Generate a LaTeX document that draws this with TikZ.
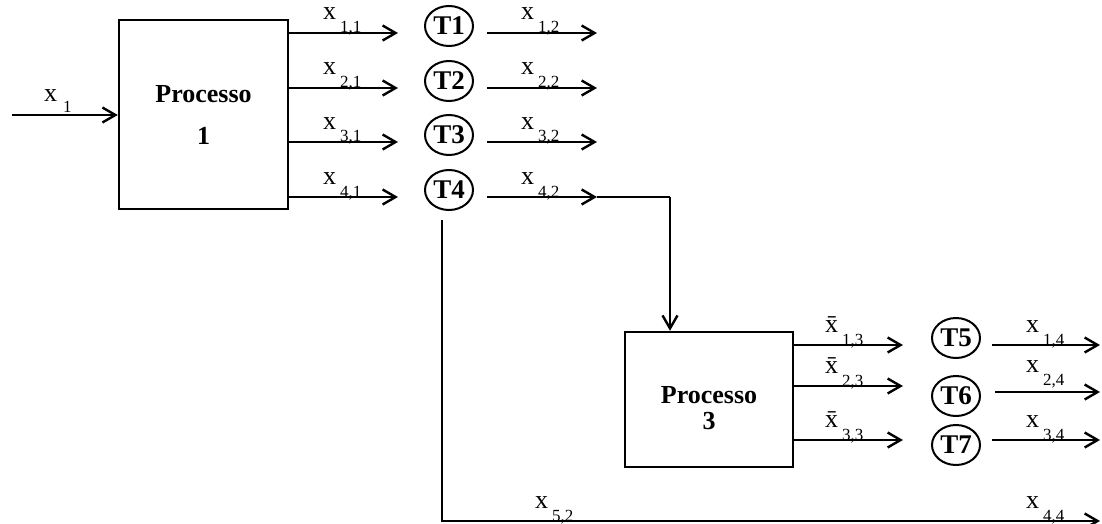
\documentclass[tikz,border=0pt]{standalone}
\usepackage{fontspec}
\setmainfont{Liberation Serif}
\usetikzlibrary{positioning,arrows.meta,shapes.geometric}

% variable label: x with a lowered index
\newcommand{\xsub}[2]{x\hspace{4pt}\raisebox{-13pt}{\fontsize{17}{17}\selectfont #1,#2}}
\newcommand{\xbarsub}[2]{\={x}\hspace{4pt}\raisebox{-13pt}{\fontsize{17}{17}\selectfont #1,#2}}

\begin{document}
\begin{tikzpicture}[x=1pt, y=-1pt, line width=2.4pt,
  flow/.style={-{Straight Barb[length=13pt,width=15pt]}},
  proc/.style={draw, rectangle, inner sep=0pt, align=center},
  tnode/.style={draw, ellipse, inner sep=0pt, minimum width=48pt, minimum height=40pt,
    line width=2pt, font=\bfseries\fontsize{27}{27}\selectfont},
  var/.style={inner sep=0pt, anchor=base west, font=\fontsize{26}{26}\selectfont}]
  \useasboundingbox (0,0) rectangle (1102,524);

  % Processes
  \node[proc, minimum width=169pt, minimum height=189pt,
    font=\bfseries\fontsize{26}{42}\selectfont] (p1) at (203.5,114.5) {Processo\\1};
  \node[proc, minimum width=168pt, minimum height=135pt, text depth=0pt,
    font=\bfseries\fontsize{26}{26}\selectfont] (p3) at (709,399.5) {\raisebox{-2.5pt}{\parbox{160pt}{\centering Processo\\3}}};

  % Input
  \coordinate (in) at (12,115);
  \draw[flow] (in) -- (in -| p1.west);
  \node[var] (lx1) at (43,102) {x\hspace{6pt}\raisebox{-11pt}{\fontsize{17}{17}\selectfont 1}};

  % Outputs of process 1 and tanks T1--T4
  \foreach \i/\y in {1/33, 2/88, 3/142, 4/197} {
    \node[tnode] (t\i) at (449,\y-7) {T\i};
    \coordinate (a\i) at (398,\y);
    \coordinate (b\i) at (487,\y);
    \coordinate (c\i) at (597,\y);
    \draw[flow] (a\i -| p1.east) -- (a\i);
    \draw[flow] (b\i) -- (c\i);
    \node[var] (la\i) at (322,\y-13) {\xsub{\i}{1}};
    \node[var] (lb\i) at (520,\y-13) {\xsub{\i}{2}};
  }

  % x_{4,2} to process 3
  \coordinate (k1) at (670,197);
  \draw (c4) -- (k1);
  \draw[flow] (k1) -- (k1 |- p3.north);

  % x_{5,2} bypass
  \coordinate (k2) at (1100,521);
  \coordinate (k3) at ([xshift=-7pt,yshift=-9pt]t4.south);
  \draw[flow] (k3) -- (k3 |- k2) -- (k2);
  \node[var] (l52) at (534,508) {\xsub{5}{2}};
  \node[var] (l44) at (1025,508) {\xsub{4}{4}};

  % Outputs of process 3 and tanks T5--T7
  \foreach \i/\y/\t/\u/\v/\s in {1/345/5/338/345/992, 2/386/6/396/392/995, 3/440/7/445/440/992} {
    \node[tnode] (t\t) at (956,\u) {T\t};
    \coordinate (d\i) at (903,\y);
    \coordinate (e\i) at (\s,\v);
    \coordinate (f\i) at (1100,\v);
    \draw[flow] (d\i -| p3.east) -- (d\i);
    \draw[flow] (e\i) -- (f\i);
    \node[var] (ld\i) at (824,\y-13) {\xbarsub{\i}{3}};
  }
  \node[var] (lf1) at (1025,332) {\xsub{1}{4}};
  \node[var] (lf2) at (1025,372) {\xsub{2}{4}};
  \node[var] (lf3) at (1025,427) {\xsub{3}{4}};

\end{tikzpicture}
\end{document}
